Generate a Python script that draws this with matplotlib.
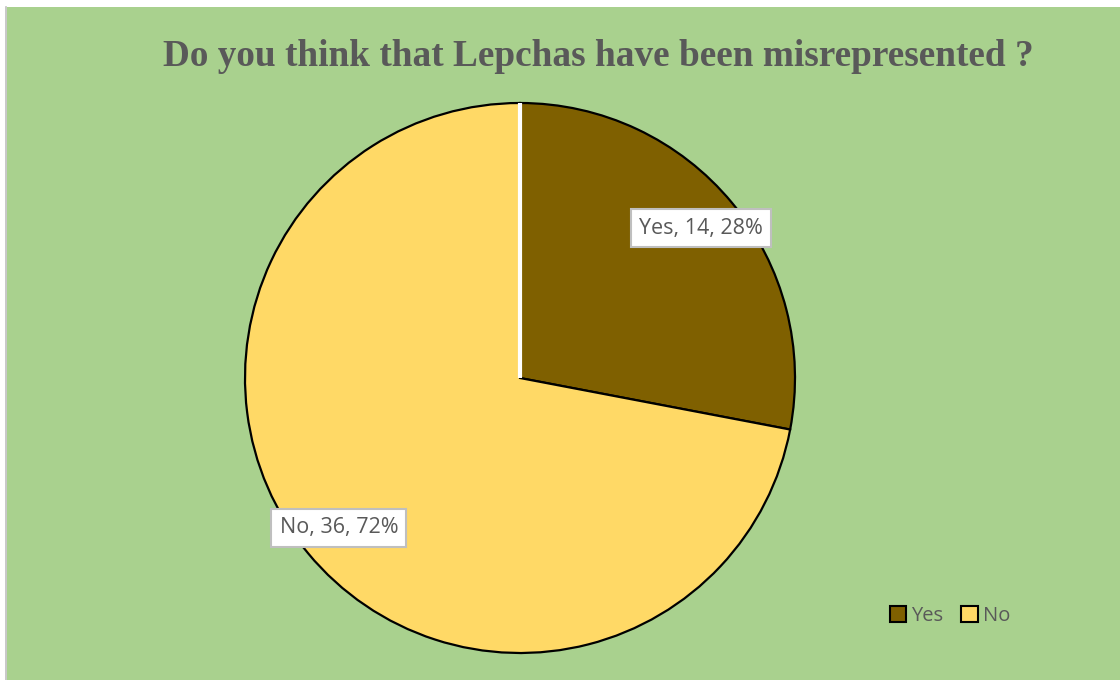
import matplotlib.pyplot as plt
from matplotlib.patches import Rectangle, Patch

categories = ['Yes', 'No']
counts = [14, 36]
colors = ['#7F6000', '#FFD966']
title = 'Do you think that Lepchas have been misrepresented ?'

fig = plt.figure(figsize=(11.2, 6.8), dpi=100)
fig.patch.set_facecolor('white')

# green chart area with a thin grey frame on the left
fig.add_artist(Rectangle((7 / 1120, 0), 1 - 7 / 1120, 1 - 7 / 680,
                         transform=fig.transFigure, facecolor='#A9D18E',
                         edgecolor='none', zorder=0))
fig.add_artist(plt.Line2D([6 / 1120, 6 / 1120], [0, 1 - 7 / 680],
                          transform=fig.transFigure, color='#BFBFBF', lw=1.2))

ax = fig.add_axes([245 / 1120, 27 / 680, 550 / 1120, 550 / 680])
ax.set_facecolor('none')

total = sum(counts)
labels = [f'{c}, {n}, {round(n / total * 100)}%' for c, n in zip(categories, counts)]

wedges, texts = ax.pie(counts, colors=colors, startangle=90, counterclock=False,
                       labels=labels, labeldistance=0.855,
                       wedgeprops=dict(edgecolor='black', linewidth=1.6),
                       textprops=dict(fontsize=15.5, color='#595959', family='Open Sans',
                                      ha='center', va='center'))
for t in texts:
    t.set_ha('center')
    t.set_bbox(dict(boxstyle='square,pad=0.38', facecolor='white',
                    edgecolor='#BFBFBF', linewidth=1.5))

# white seam along the starting radius
ax.plot([0, 0], [0, 1.0], color='white', lw=3, zorder=5, solid_capstyle='butt')
ax.set_xlim(-1, 1)
ax.set_ylim(-1, 1)
ax.set_aspect('equal')

fig.text(598 / 1120, 1 - 56 / 680, title, ha='center', va='center',
         fontsize=26.8, fontweight='bold', color='#595959', family='Liberation Serif')

handles = [Patch(facecolor=c, edgecolor='black', linewidth=1.5) for c in colors]
fig.legend(handles, categories, loc='center', bbox_to_anchor=(950 / 1120, 1 - 616 / 680),
           ncol=2, frameon=False, handlelength=0.8, handleheight=0.8,
           handletextpad=0.25, columnspacing=0.9,
           prop=dict(family='Open Sans', size=14.5), labelcolor='#595959')

fig.savefig('out.png', dpi=100, facecolor=fig.get_facecolor())
